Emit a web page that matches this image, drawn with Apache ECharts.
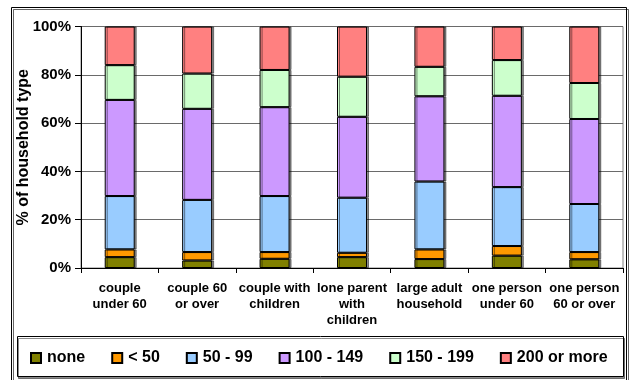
<!DOCTYPE html>
<html>
<head>
<meta charset="utf-8">
<script src="https://cdn.jsdelivr.net/npm/echarts@6/dist/echarts.min.js"></script>
<style>
  html, body { margin: 0; padding: 0; background: #fff; }
  #chart { width: 633px; height: 380px; }
</style>
</head>
<body>
<div id="chart"></div>
<script>
// Household types along the x axis
const categories = [
  'couple\nunder 60',
  'couple 60\nor over',
  'couple with\nchildren',
  'lone parent\nwith\nchildren',
  'large adult\nhousehold',
  'one person\nunder 60',
  'one person\n60 or over'
];

// Share of each household type in each band (percent)
const bandNone    = [4.5, 3.1, 3.8, 4.5, 3.7, 5.1, 3.6];
const bandUnder50 = [3.2, 3.5, 2.8, 1.8, 4.0, 4.0, 3.0];
const band50to99  = [22.1, 21.6, 23.2, 22.8, 28.1, 24.4, 19.9];
const band100to149 = [39.8, 37.7, 36.8, 33.5, 35.3, 37.8, 35.2];
const band150to199 = [14.4, 14.6, 15.4, 16.6, 12.2, 14.8, 14.9];
const band200plus  = [16.0, 19.5, 18.0, 20.8, 16.7, 13.9, 23.4];

const bandNames = ['none', '< 50', '50 - 99', '100 - 149', '150 - 199', '200 or more'];
const bandData = [bandNone, bandUnder50, band50to99, band100to149, band150to199, band200plus];
const bandColors = ['#808000', '#FF9900', '#99CCFF', '#CC99FF', '#CCFFCC', '#FF8080'];

const yTicks = [0, 20, 40, 60, 80, 100];

const chart = echarts.init(document.getElementById('chart'), null, { renderer: 'canvas' });

const font = 'Liberation Sans, Arial, sans-serif';

chart.setOption({
  animation: false,
  backgroundColor: '#fff',
  textStyle: { fontFamily: font },
  graphic: [
    {
      // outer chart frame
      type: 'rect',
      shape: { x: 11.5, y: 7.5, width: 615, height: 380 },
      style: { fill: 'none', stroke: '#000', lineWidth: 1,
               shadowColor: 'rgba(0,0,0,0.6)', shadowOffsetX: 2, shadowOffsetY: 2 },
      silent: true, z: 0
    },
    {
      // legend frame
      type: 'rect',
      shape: { x: 17.5, y: 336.5, width: 606, height: 40 },
      style: { fill: '#fff', stroke: '#000', lineWidth: 1,
               shadowColor: 'rgba(0,0,0,0.45)', shadowOffsetX: 1, shadowOffsetY: 2 },
      silent: true, z: 0
    }
  ],
  grid: {
    left: 81, right: 10, top: 26.5, bottom: 112,
    show: true, borderColor: '#808080', borderWidth: 1, backgroundColor: 'transparent'
  },
  legend: {
    data: bandNames,
    left: 30, top: 350, padding: 0,
    itemWidth: 10, itemHeight: 10, itemGap: 26,
    icon: 'rect',
    textStyle: { fontFamily: font, fontSize: 16, fontWeight: 'bold', color: '#000', padding: [0, 0, 0, 1] }
  },
  xAxis: {
    type: 'category',
    data: categories,
    axisLine: { lineStyle: { color: '#000', width: 1 } },
    axisTick: { show: true, alignWithLabel: false, length: 5, lineStyle: { color: '#000' } },
    axisLabel: {
      interval: 0, margin: 12,
      fontFamily: font, fontSize: 13, fontWeight: 'bold', color: '#000',
      lineHeight: 16, align: 'center'
    },
    splitLine: { show: false }
  },
  yAxis: {
    type: 'value',
    min: yTicks[0], max: yTicks[yTicks.length - 1], interval: 20,
    name: '% of household type',
    nameLocation: 'middle',
    nameGap: 49,
    nameMoveOverlap: false,
    nameTextStyle: { fontFamily: font, fontSize: 16, fontWeight: 'bold', color: '#000' },
    axisLine: { show: true, lineStyle: { color: '#000', width: 1 } },
    axisTick: { show: true, length: 6, lineStyle: { color: '#000' } },
    axisLabel: {
      formatter: '{value}%', margin: 10,
      fontFamily: font, fontSize: 15, fontWeight: 'bold', color: '#000'
    },
    splitLine: { show: true, lineStyle: { color: '#6a6a6a', width: 1 } }
  },
  series: bandNames.map((name, i) => ({
    name: name,
    type: 'bar',
    stack: 'total',
    barWidth: 30,
    data: bandData[i],
    itemStyle: {
      color: bandColors[i],
      borderColor: '#000',
      borderWidth: 1,
      shadowColor: 'rgba(0,0,0,0.45)',
      shadowOffsetX: 2,
      shadowOffsetY: 0,
      shadowBlur: 0
    },
    emphasis: { disabled: true }
  }))
});
</script>
</body>
</html>
